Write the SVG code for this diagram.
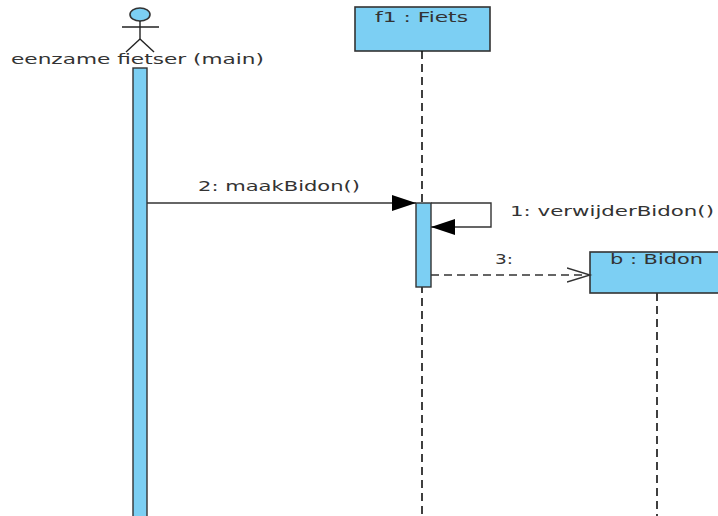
<svg xmlns="http://www.w3.org/2000/svg" width="718" height="516" viewBox="0 0 718 516">
  <style>
    .box { fill: #7ccff3; stroke: #333; stroke-width: 1.6; }
    .bar { fill: #7ccff3; stroke: #333; stroke-width: 1.4; }
    .life { stroke: #111; stroke-width: 1.6; stroke-dasharray: 8 5; fill: none; }
    .msg { stroke: #333; stroke-width: 1.4; fill: none; }
    .ret { stroke: #333; stroke-width: 1.4; fill: none; stroke-dasharray: 8 5; }
    .stick { stroke: #222; stroke-width: 1.4; fill: none; }
    text { font-family: "DejaVu Sans", "Liberation Sans", sans-serif; font-size: 13.5px; fill: #333; }
  </style>
  <defs>
    <marker id="filled" markerUnits="userSpaceOnUse" markerWidth="26" markerHeight="18" refX="24" refY="8" orient="auto">
      <path d="M0,0 L24,8 L0,16 Z" fill="#000"/>
    </marker>
    <marker id="open" markerUnits="userSpaceOnUse" markerWidth="26" markerHeight="18" refX="23" refY="8" orient="auto">
      <path d="M0,1 L23,8 L0,15" fill="none" stroke="#333" stroke-width="1.4"/>
    </marker>
  </defs>
  <rect width="718" height="516" fill="#fff"/>

  <!-- actor: eenzame fietser -->
  <g id="actor-fietser">
    <ellipse cx="140" cy="14.5" rx="10" ry="6.5" class="box" stroke-width="1.3"/>
    <line x1="140" y1="21" x2="140" y2="39" class="stick"/>
    <line x1="122" y1="27" x2="159" y2="27" class="stick"/>
    <line x1="140" y1="39" x2="126" y2="52" class="stick"/>
    <line x1="140" y1="39" x2="154" y2="52" class="stick"/>
    <text x="11" y="64" textLength="253" lengthAdjust="spacingAndGlyphs">eenzame fietser (main)</text>
    <rect x="133" y="68" width="14" height="460" class="bar"/>
  </g>

  <!-- object f1 : Fiets -->
  <g id="obj-f1">
    <rect x="355" y="7" width="135" height="44" class="box"/>
    <text x="375" y="22" textLength="93" lengthAdjust="spacingAndGlyphs">f1 : Fiets</text>
    <line x1="422" y1="51" x2="422" y2="516" class="life"/>
    <rect x="416" y="203" width="15" height="84" class="bar"/>
  </g>

  <!-- object b : Bidon -->
  <g id="obj-b">
    <line x1="657" y1="293" x2="657" y2="516" class="life"/>
    <rect x="590" y="252" width="140" height="41" class="box"/>
    <text x="610" y="264" textLength="93" lengthAdjust="spacingAndGlyphs">b : Bidon</text>
  </g>

  <!-- messages -->
  <g id="connectors">
    <line x1="147" y1="203" x2="416" y2="203" class="msg" marker-end="url(#filled)"/>
    <text x="198" y="191" textLength="162" lengthAdjust="spacingAndGlyphs">2: maakBidon()</text>

    <polyline points="431,203 491,203 491,227 431,227" class="msg" marker-end="url(#filled)"/>
    <text x="510" y="216" textLength="204" lengthAdjust="spacingAndGlyphs">1: verwijderBidon()</text>

    <line x1="431" y1="275" x2="590" y2="275" class="ret" marker-end="url(#open)"/>
    <text x="495" y="264" textLength="18" lengthAdjust="spacingAndGlyphs">3:</text>
  </g>
</svg>
